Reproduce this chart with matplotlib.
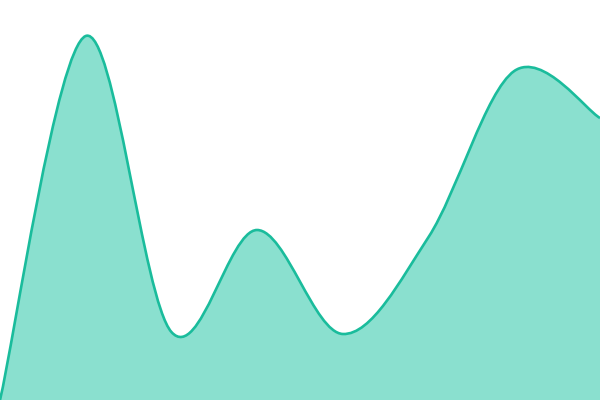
import numpy as np
import matplotlib
matplotlib.use('Agg')
import matplotlib.pyplot as plt
from matplotlib.path import Path
from matplotlib.patches import PathPatch

# data
x_vals = [0, 1, 2, 3, 4, 5, 6, 7]
y_vals = [0, 364, 68, 170, 66, 163, 329, 282]

line_color = '#1abc9c'
fill_color = '#8ae0cf'


def spline_path(xs, ys, closed_to=None):
    # catmull-rom as cubic bezier segments
    pts = np.column_stack([xs, ys]).astype(float)
    ext = np.vstack([pts[0], pts, pts[-1]])
    verts = [pts[0]]
    codes = [Path.MOVETO]
    for i in range(len(pts) - 1):
        p0, p1, p2, p3 = ext[i], ext[i + 1], ext[i + 2], ext[i + 3]
        c1 = p1 + (p2 - p0) / 6
        c2 = p2 - (p3 - p1) / 6
        verts += [c1, c2, p2]
        codes += [Path.CURVE4] * 3
    if closed_to is not None:
        verts += [(xs[-1], closed_to), (xs[0], closed_to), pts[0]]
        codes += [Path.LINETO, Path.LINETO, Path.CLOSEPOLY]
    return Path(verts, codes)


fig, ax = plt.subplots(figsize=(6, 4), dpi=100)
fig.subplots_adjust(left=0, right=1, bottom=0, top=1)

ax.add_patch(PathPatch(spline_path(x_vals, y_vals, closed_to=0),
                       facecolor=fill_color, edgecolor='none'))
ax.add_patch(PathPatch(spline_path(x_vals, y_vals),
                       facecolor='none', edgecolor=line_color, lw=1.9))

ax.set_xlim(x_vals[0], x_vals[-1])
ax.set_ylim(0, 400)
ax.axis('off')

fig.savefig('out.png', dpi=100)
